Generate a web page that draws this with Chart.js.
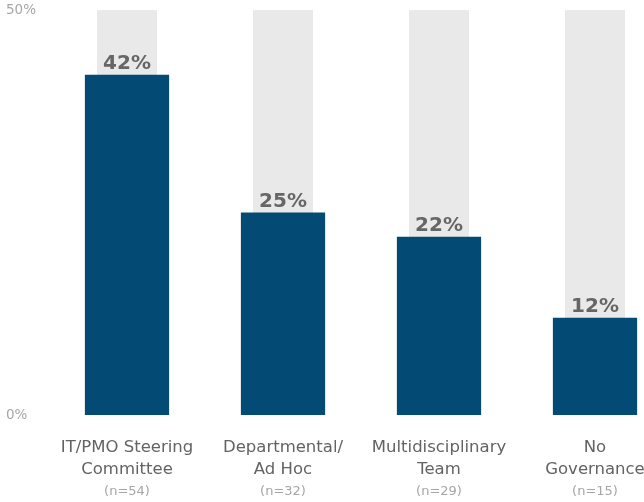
<!DOCTYPE html>
<html>
<head>
<meta charset="utf-8">
<script src="https://cdn.jsdelivr.net/npm/chart.js@4"></script>
<style>
  html, body { margin: 0; padding: 0; overflow: hidden; background: #fff; }
  #wrap { width: 700px; height: 502px; position: relative; }
</style>
</head>
<body>
<div id="wrap"><canvas id="c"></canvas></div>
<script>
// Governance structure categories (two-line labels)
const categories = [
  ["IT/PMO Steering", "Committee"],
  ["Departmental/", "Ad Hoc"],
  ["Multidisciplinary", "Team"],
  ["No", "Governance"]
];
// Respondent counts shown under each category
const sampleSizes = ["(n=54)", "(n=32)", "(n=29)", "(n=15)"];
// Share of respondents (%)
const shares = [42, 25, 22, 12];
// Full-scale backdrop column for each category (%)
const backdrop = [50, 50, 50, 50];
// Y axis range and tick labels
const yMin = 0;
const yMax = 50;
const yStep = 50;

const FONT = "'DejaVu Sans', Verdana, sans-serif";

const valueLabels = {
  id: 'valueLabels',
  afterDatasetsDraw(chart) {
    const meta = chart.getDatasetMeta(0);
    const ctx = chart.ctx;
    ctx.save();
    ctx.font = "bold 20px " + FONT;
    ctx.fillStyle = '#666666';
    ctx.textAlign = 'center';
    ctx.textBaseline = 'alphabetic';
    meta.data.forEach((bar, i) => {
      ctx.fillText(shares[i] + '%', bar.x, bar.y - 6);
    });
    ctx.restore();
  }
};

new Chart(document.getElementById('c'), {
  type: 'bar',
  data: {
    labels: categories,
    datasets: [
      {
        data: shares,
        backgroundColor: '#034a75',
        barPercentage: 0.54,
        categoryPercentage: 1,
        grouped: false,
        order: 0
      },
      {
        data: backdrop,
        backgroundColor: '#e9e9e9',
        barPercentage: 0.385,
        categoryPercentage: 1,
        grouped: false,
        order: 1
      }
    ]
  },
  options: {
    responsive: true,
    maintainAspectRatio: false,
    animation: false,
    layout: { padding: { left: 6, right: 27, top: 10, bottom: 0 } },
    plugins: {
      legend: { display: false },
      tooltip: { enabled: false }
    },
    scales: {
      y: {
        min: yMin,
        max: yMax,
        grid: { display: false },
        border: { display: false },
        ticks: {
          stepSize: yStep,
          color: '#a6a6a6',
          crossAlign: 'far',
          padding: 0,
          font: { family: FONT, size: 13.5 },
          callback: v => v + '%'
        },
        afterFit(s) { s.width = 43; }
      },
      x: {
        position: 'bottom',
        weight: 0,
        grid: { display: false },
        border: { display: false },
        ticks: {
          color: '#636363',
          padding: 14,
          maxRotation: 0,
          autoSkip: false,
          font: { family: FONT, size: 16.5, lineHeight: 22 / 16.5 }
        },
        afterFit(s) { s.height = 66; }
      },
      x2: {
        type: 'category',
        labels: sampleSizes,
        position: 'bottom',
        offset: true,
        weight: 1,
        grid: { display: false },
        border: { display: false },
        ticks: {
          color: '#a6a6a6',
          padding: -5,
          maxRotation: 0,
          autoSkip: false,
          font: { family: FONT, size: 13 }
        },
        afterFit(s) { s.height = 21; }
      }
    }
  },
  plugins: [valueLabels]
});
</script>
</body>
</html>
